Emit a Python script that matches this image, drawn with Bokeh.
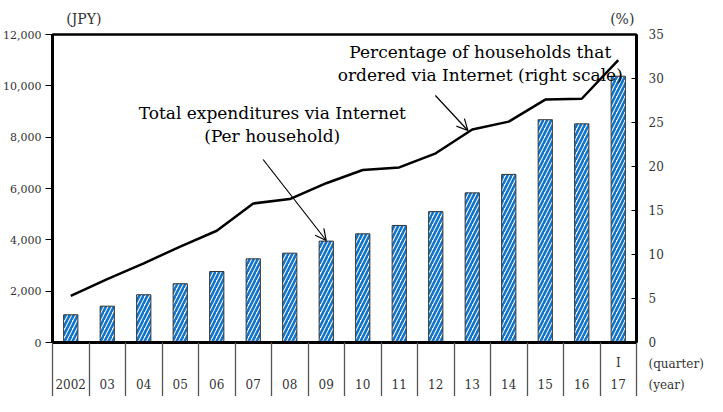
from bokeh.plotting import figure
from bokeh.models import (Range1d, LinearAxis, FixedTicker, Label, Arrow, OpenHead,
                          NumeralTickFormatter, ColumnDataSource)
from bokeh.embed import file_html
from bokeh.resources import INLINE

# ---- data ----
years = ["2002", "03", "04", "05", "06", "07", "08", "09", "10", "11",
         "12", "13", "14", "15", "16", "17"]
quarters = [""] * 15 + ["I"]          # 2017: first quarter only
expenditure_jpy = [1080, 1415, 1860, 2290, 2765, 3260, 3480, 3950, 4235, 4560,
                   5100, 5830, 6550, 8680, 8520, 10375]
pct_households = [5.3, 7.2, 9.0, 10.9, 12.7, 15.8, 16.3, 18.1, 19.6, 19.9,
                  21.5, 24.2, 25.1, 27.6, 27.7, 32.1]
left_ticks = [0, 2000, 4000, 6000, 8000, 10000, 12000]
right_ticks = [0, 5, 10, 15, 20, 25, 30, 35]
unit_labels = {0.36: "(JPY)", 15.11: "(%)"}
axis_notes = ["(quarter)", "(year)"]

FONT = "DejaVu Serif"
BLUE = "#1174C9"
GREY_TXT = "#333333"

xs = list(range(len(years)))
src = ColumnDataSource(dict(x=xs, exp=expenditure_jpy, pct=pct_households))

p = figure(width=707, height=396,
           x_range=Range1d(-0.5, len(years) - 0.5),
           y_range=Range1d(left_ticks[0], left_ticks[-1]),
           output_backend="svg", toolbar_location=None,
           min_border_top=34, min_border_bottom=54, min_border_right=71,
           min_border_left=10)
p.extra_y_ranges = {"pct": Range1d(right_ticks[0], right_ticks[-1])}
p.xgrid.visible = False
p.ygrid.visible = False
p.outline_line_color = "black"
p.outline_line_width = 2

# bottom axis: separators (minor ticks) and quarter/year labels
xa = p.xaxis[0]
xa.ticker = FixedTicker(ticks=xs, minor_ticks=[i - 0.5 for i in range(len(years) + 1)])
xa.major_label_overrides = {i: (q if q else " ") + "\n" + y
                            for i, (q, y) in enumerate(zip(quarters, years))}
xa.major_tick_out = 0
xa.major_tick_in = 0
xa.minor_tick_out = 58
xa.minor_tick_in = 0
xa.minor_tick_line_color = "#555555"
xa.minor_tick_line_width = 1.3
xa.axis_line_color = "black"
xa.axis_line_width = 3
xa.major_label_standoff = -45
xa.major_label_text_line_height = 1.64
xa.major_label_text_font = FONT
xa.major_label_text_font_size = "12px"
xa.major_label_text_color = GREY_TXT

# top axis carries the unit captions
ta = LinearAxis(ticker=FixedTicker(ticks=list(unit_labels.keys())))
ta.major_label_overrides = dict(unit_labels)
ta.major_tick_out = 0
ta.major_tick_in = 0
ta.minor_tick_out = 0
ta.minor_tick_in = 0
ta.axis_line_width = 2
ta.axis_line_color = "black"
ta.major_label_standoff = 8
ta.major_label_text_font = FONT
ta.major_label_text_font_size = "14px"
ta.major_label_text_color = GREY_TXT
p.add_layout(ta, "above")

# left axis (JPY)
ya = p.yaxis[0]
ya.ticker = FixedTicker(ticks=left_ticks)
ya.formatter = NumeralTickFormatter(format="0,0")
ya.major_tick_out = 7
ya.major_tick_in = 0
ya.minor_tick_out = 0
ya.minor_tick_in = 0
ya.axis_line_width = 3
ya.axis_line_color = "black"
ya.major_label_standoff = 4
ya.major_label_text_font = FONT
ya.major_label_text_font_size = "11px"
ya.major_label_text_color = GREY_TXT

# right axis (%), its "0" label also carries the (quarter)/(year) notes
ra = LinearAxis(y_range_name="pct", ticker=FixedTicker(ticks=right_ticks))
ra.major_label_overrides = {right_ticks[0]: "\n\n" + str(right_ticks[0]) + "\n" + "\n".join(axis_notes)}
ra.major_tick_out = 0
ra.major_tick_in = 5
ra.minor_tick_out = 0
ra.minor_tick_in = 0
ra.axis_line_width = 3
ra.axis_line_color = "black"
ra.major_label_standoff = 12
ra.major_label_text_line_height = 1.5
ra.major_label_text_font = FONT
ra.major_label_text_font_size = "12px"
ra.major_label_text_color = GREY_TXT
p.add_layout(ra, "right")

# bars and line
p.vbar(x="x", top="exp", source=src, width=0.39, fill_color="white",
       line_color="#333333", line_width=1, hatch_pattern="/",
       hatch_color=BLUE, hatch_weight=2.6, hatch_scale=8)
p.line(x="x", y="pct", source=src, y_range_name="pct",
       line_color="black", line_width=2.5)

def lab(x, y, text, size="17px"):
    return Label(x=x, y=y, text=text, text_font=FONT, text_font_size=size,
                 text_align="center", text_baseline="middle", text_color="black")

for args in [(11.22, 11299, "Percentage of households that"),
             (11.22, 10403, "ordered via Internet (right scale)"),
             (5.52, 8961, "Total expenditures via Internet"),
             (5.52, 8026, "(Per household)")]:
    p.add_layout(lab(*args))

p.add_layout(Arrow(end=OpenHead(size=11, line_width=1.2), x_start=9.99, y_start=9623,
                   x_end=10.88, y_end=8260, line_width=1.2))
p.add_layout(Arrow(end=OpenHead(size=11, line_width=1.2), x_start=5.27, y_start=7130,
                   x_end=7.0, y_end=3974, line_width=1.2))

open("out.html", "w").write(file_html(p, INLINE))
